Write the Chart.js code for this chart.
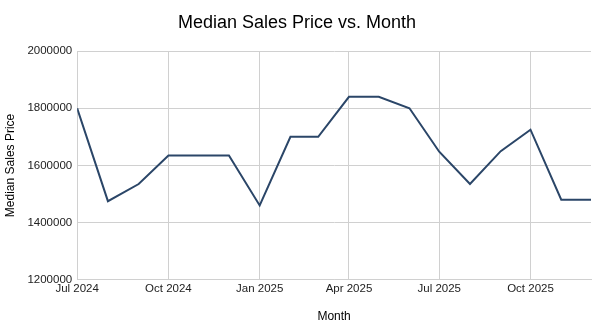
<!DOCTYPE html>
<html>
<head>
<meta charset="utf-8">
<script src="https://cdn.jsdelivr.net/npm/chart.js@4"></script>
<style>
  html, body { margin: 0; padding: 0; background: #fff; }
  #wrap { width: 603px; height: 331px; }
</style>
</head>
<body>
<div id="wrap"><canvas id="lineChart" width="603" height="331"></canvas></div>
<script>
// 月 (YYYY-MM) と中央値
var months = ['2024-07', '2024-08', '2024-09', '2024-10', '2024-11', '2024-12',
              '2025-01', '2025-02', '2025-03', '2025-04', '2025-05', '2025-06',
              '2025-07', '2025-08', '2025-09', '2025-10', '2025-11', '2025-12'];
var medianPrice = [1800000, 1475000, 1535000, 1635000, 1635000, 1635000,
                   1460000, 1700000, 1700000, 1840000, 1840000, 1800000,
                   1648000, 1535000, 1650000, 1725000, 1480000, 1480000];
var tickMonths = ['2024-07', '2024-10', '2025-01', '2025-04', '2025-07', '2025-10'];
var tickLabels = ['Jul 2024', 'Oct 2024', 'Jan 2025', 'Apr 2025', 'Jul 2025', 'Oct 2025'];

// 月初からの日数に変換
function dayOf(ym) {
  var p = ym.split('-');
  var start = Date.UTC(2024, 6, 1);
  return (Date.UTC(+p[0], +p[1] - 1, 1) - start) / 86400000;
}

var points = months.map(function (m, i) { return { x: dayOf(m), y: medianPrice[i] }; });
var tickDays = tickMonths.map(dayOf);

var font = 'Liberation Sans, Arial, sans-serif';

var data = {
  datasets: [
    {
      label: 'Median Sales Price',
      data: points,
      borderColor: '#2b4668', // 線の色
      borderWidth: 2,
      pointRadius: 0,
      tension: 0,
      fill: false
    }
  ]
};

var options = {
  responsive: false,
  animation: false,
  layout: { padding: { left: 3, right: 12, top: 4, bottom: 7 } },
  plugins: {
    legend: { display: false },
    tooltip: { enabled: false },
    title: {
      display: true,
      text: 'Median Sales Price vs. Month',
      color: '#000',
      font: { family: font, size: 18, weight: 'normal' },
      padding: { top: 8, bottom: 17.5 }
    }
  },
  scales: {
    x: {
      type: 'linear',
      min: 0,
      max: dayOf('2025-12'),
      afterBuildTicks: function (axis) {
        axis.ticks = tickDays.map(function (v) { return { value: v }; });
      },
      ticks: {
        autoSkip: false,
        maxRotation: 0,
        color: '#222',
        font: { family: font, size: 11.5 },
        padding: 2,
        callback: function (v) {
          var i = tickDays.indexOf(v);
          return i >= 0 ? tickLabels[i] : '';
        }
      },
      grid: { color: '#d0d0d0', drawTicks: false },
      border: { color: '#d0d0d0' },
      title: {
        display: true,
        text: 'Month',
        color: '#000',
        font: { family: font, size: 12 },
        padding: { top: 12, bottom: 0 }
      }
    },
    y: {
      min: 1200000,
      max: 2000000,
      ticks: {
        stepSize: 200000,
        color: '#222',
        font: { family: font, size: 11.5 },
        padding: 5,
        callback: function (v) { return String(v); }
      },
      grid: { color: '#d0d0d0', drawTicks: false },
      border: { color: '#d0d0d0' },
      title: {
        display: true,
        text: 'Median Sales Price',
        color: '#000',
        font: { family: font, size: 12 },
        padding: { top: 0, bottom: 5 }
      }
    }
  }
};

var ctx = document.getElementById('lineChart').getContext('2d');
var lineChart = new Chart(ctx, {
  type: 'line',
  data: data,
  options: options
});
</script>
</body>
</html>
